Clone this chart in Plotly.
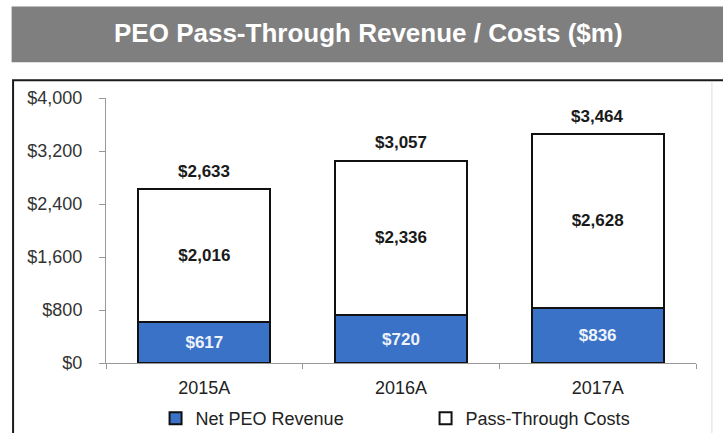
import plotly.graph_objects as go

categories = ["2015A", "2016A", "2017A"]
net_peo_revenue = [617, 720, 836]
pass_through_costs = [2016, 2336, 2628]
totals = [2633, 3057, 3464]
y_ticks = [0, 800, 1600, 2400, 3200, 4000]
y_tick_labels = ["$0", "$800", "$1,600", "$2,400", "$3,200", "$4,000"]

FONT = "Liberation Sans, Arial, sans-serif"
BLUE = "#3a72c8"

fig = go.Figure()
fig.add_trace(go.Bar(
    name="Net PEO Revenue", x=categories, y=net_peo_revenue,
    marker=dict(color=BLUE, line=dict(color="#111111", width=2)),
    text=[f"${v:,}" for v in net_peo_revenue], textposition="inside",
    insidetextanchor="middle",
    textfont=dict(family=FONT, size=17, color="#eef3fb", weight="bold"),
))
fig.add_trace(go.Bar(
    name="Pass-Through Costs", x=categories, y=pass_through_costs,
    marker=dict(color="#ffffff", line=dict(color="#111111", width=2)),
    text=[f"${v:,}" for v in pass_through_costs], textposition="inside",
    insidetextanchor="middle",
    textfont=dict(family=FONT, size=17, color="#1a1a1a", weight="bold"),
))

for c, t in zip(categories, totals):
    fig.add_annotation(x=c, y=t, text=f"<b>${t:,}</b>", showarrow=False,
                       yanchor="bottom", yshift=6,
                       font=dict(family=FONT, size=17, color="#1a1a1a"))

# title band
fig.add_shape(type="rect", xref="paper", yref="paper",
              x0=-0.16, x1=1.1, y0=1.1346, y1=1.345,
              fillcolor="#7f7f7f", line=dict(width=0), layer="below")
fig.add_annotation(xref="paper", yref="paper", x=0.445, y=1.245,
                   text="<b>PEO Pass-Through Revenue / Costs ($m)</b>",
                   showarrow=False, xanchor="center", yanchor="middle",
                   font=dict(family=FONT, size=26, color="#ffffff"))
# chart border (right side runs past the edge)
fig.add_shape(type="rect", xref="paper", yref="paper",
              x0=-0.1575, x1=1.1, y0=-0.4, y1=1.0667,
              fillcolor="rgba(0,0,0,0)", line=dict(color="#1a1a1a", width=2),
              layer="below")
# faint inner right line
fig.add_shape(type="line", xref="paper", yref="paper",
              x0=1.027, x1=1.027, y0=-0.4, y1=1.06,
              line=dict(color="#dddddd", width=1), layer="below")

fig.update_layout(
    width=723, height=433,
    margin=dict(l=106, r=27, t=98, b=70, autoexpand=False),
    paper_bgcolor="#ffffff", plot_bgcolor="#ffffff",
    barmode="stack", bargap=0.33,
    font=dict(family=FONT, color="#222222"),
    showlegend=True,
    legend=dict(orientation="h", x=0.084, y=-0.21, xanchor="left",
                yanchor="middle", traceorder="normal",
                entrywidth=225, entrywidthmode="pixels",
                font=dict(family=FONT, size=18, color="#222222"),
                itemwidth=30),
    xaxis=dict(showline=True, linecolor="#999999", linewidth=1,
               ticks="outside", tickson="boundaries", ticklen=5,
               tickcolor="#999999", showgrid=False, ticklabelstandoff=8,
               tickfont=dict(family=FONT, size=18, color="#222222")),
    yaxis=dict(range=[0, 4000], tickvals=y_ticks, ticktext=y_tick_labels,
               showline=True, linecolor="#999999", linewidth=1,
               ticks="outside", ticklen=6, tickcolor="#999999",
               showgrid=False, zeroline=False, ticklabelstandoff=13,
               tickfont=dict(family=FONT, size=18, color="#333333")),
)

fig.write_html(
    "out.html",
    config={"displayModeBar": False},
    post_script="document.body.style.margin='0';document.body.style.overflow='hidden';",
)
